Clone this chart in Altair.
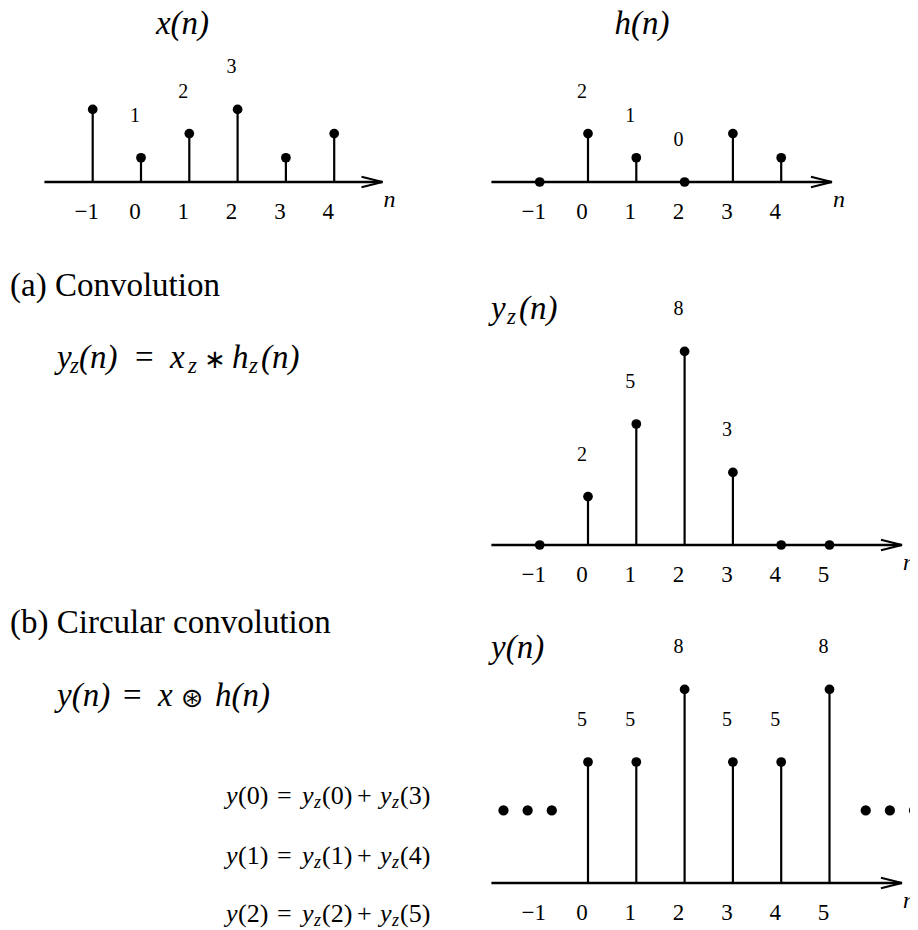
import altair as alt
import pandas as pd

# ---------------- data ----------------
n_x = [-1, 0, 1, 2, 3, 4]
x_vals = [3, 1, 2, 3, 1, 2]
x_labeled = [0, 1, 2]

n_h = [-1, 0, 1, 2, 3, 4]
h_vals = [0, 2, 1, 0, 2, 1]
h_labeled = [0, 1, 2]

n_yz = [-1, 0, 1, 2, 3, 4, 5]
yz_vals = [0, 2, 5, 8, 3, 0, 0]
yz_labeled = [0, 1, 2, 3]

n_y = [0, 1, 2, 3, 4, 5]
y_vals = [5, 5, 8, 5, 5, 8]
y_labeled = [0, 1, 2, 3, 4, 5]

ellipsis_n = [-1.75, -1.25, -0.75, 5.75, 6.25, 6.75]
ellipsis_level = [3, 3, 3, 3, 3, 3]

ticks_x = [-1, 0, 1, 2, 3, 4]
ticks_h = [-1, 0, 1, 2, 3, 4]
ticks_yz = [-1, 0, 1, 2, 3, 4, 5]
ticks_y = [-1, 0, 1, 2, 3, 4, 5]

axis_x = [-2.0, 5.0]
axis_h = [-2.0, 5.05]
axis_yz = [-2.0, 6.5]
axis_y = [-2.0, 6.5]

heading_a = "(a) Convolution"
heading_b = "(b) Circular convolution"
small_lhs = [0, 1, 2]
small_rhs_a = [0, 1, 2]
small_rhs_b = [3, 4, 5]

# ---------------- layout / style ----------------
SERIF = "Liberation Serif"
SYM = "DejaVu Sans"
XU = 48.3   # px per sample
YU = 24.2   # px per amplitude unit
W = 451


def xdom(n0_page, x0_page, w):
    o = n0_page - x0_page
    return [-o / XU, (w - o) / XU]


def ydom(axis_page, y0_page, h):
    o = axis_page - y0_page
    return [-(h - o) / YU, o / YU]


def piece(s, px, py, x0, y0, size, italic=False, font=SERIF, align="left"):
    return alt.Chart(pd.DataFrame({"s": [s]})).mark_text(
        align=align, baseline="alphabetic", font=font, fontSize=size,
        fontStyle="italic" if italic else "normal", color="black"
    ).encode(x=alt.value(px - x0), y=alt.value(py - y0), text="s:N")


def tick_text(t):
    return ("\u2212" + str(-t)) if t < 0 else str(t)


def stem_panel(n, vals, labeled, ticks, ext, x0, y0, w, h, n0_page, axis_page, extra=None):
    xs = alt.Scale(domain=xdom(n0_page, x0, w), nice=False, zero=False)
    ys = alt.Scale(domain=ydom(axis_page, y0, h), nice=False, zero=False)
    df = pd.DataFrame({"n": n, "v": vals})
    df["label"] = [str(v) if k in labeled else "" for k, v in zip(n, vals)]
    dax = pd.DataFrame({"a0": [ext[0]], "a1": [ext[1]], "v": [0]})
    dt = pd.DataFrame({"t": ticks, "v": [0] * len(ticks), "lab": [tick_text(t) for t in ticks]})

    X = alt.X("n:Q", scale=xs, axis=None)
    Y = alt.Y("v:Q", scale=ys, axis=None)

    axis_line = alt.Chart(dax).mark_rule(color="black", strokeWidth=2.5).encode(
        x=alt.X("a0:Q", scale=xs, axis=None), x2="a1:Q", y=Y)
    arrow = alt.Chart(dax).mark_point(
        shape="M -2 -0.5 L 0 0 L -2 0.5", size=441, filled=False,
        color="black", strokeWidth=2, opacity=1
    ).encode(x=alt.X("a1:Q", scale=xs, axis=None), y=Y)
    nlab = alt.Chart(dax).mark_text(
        align="left", baseline="alphabetic", dx=1, dy=25, font=SERIF, fontSize=24,
        fontStyle="italic", color="black", clip=True
    ).encode(x=alt.X("a1:Q", scale=xs, axis=None), y=Y, text=alt.value("n"))
    stems = alt.Chart(df).mark_rule(color="black", strokeWidth=2.2).encode(
        x=X, y=Y, y2=alt.datum(0))
    dots = alt.Chart(df).mark_circle(size=95, color="black", opacity=1).encode(x=X, y=Y)
    labels = alt.Chart(df).transform_filter("datum.label != ''").mark_text(
        baseline="alphabetic", dx=-6, dy=-36, font=SERIF, fontSize=20, color="black"
    ).encode(x=X, y=Y, text="label:N")
    tlabs = alt.Chart(dt).mark_text(
        baseline="alphabetic", dx=-6, dy=37, font=SERIF, fontSize=23, color="black"
    ).encode(x=alt.X("t:Q", scale=xs, axis=None), y=Y, text="lab:N")

    layers = [axis_line, arrow, nlab, stems, dots, labels, tlabs]
    if extra is not None:
        layers += extra(xs, ys)
    return layers


# ---------------- panels ----------------
# top-left: x(n)
L1x0, L1y0, L1h = 8, 8, 242
L1 = alt.layer(
    *stem_panel(n_x, x_vals, x_labeled, ticks_x, axis_x, L1x0, L1y0, W, L1h, 141, 182),
    piece("x(n)", 182.5, 34, L1x0, L1y0, 33, italic=True, align="center"),
).properties(width=W, height=L1h)

# top-right: h(n)
R1x0, R1y0, R1h = 459, 8, 242
R1 = alt.layer(
    *stem_panel(n_h, h_vals, h_labeled, ticks_h, axis_h, R1x0, R1y0, W, R1h, 588, 182),
    piece("h(n)", 642, 34, R1x0, R1y0, 33, italic=True, align="center"),
).properties(width=W, height=R1h)

# middle-right: y_z(n)
R2x0, R2y0, R2h = 459, 250, 340
R2 = alt.layer(
    *stem_panel(n_yz, yz_vals, yz_labeled, ticks_yz, axis_yz, R2x0, R2y0, W, R2h, 588, 545),
    piece("y", 491, 319, R2x0, R2y0, 33, italic=True),
    piece("z", 507, 324, R2x0, R2y0, 23, italic=True),
    piece("(n)", 519, 319, R2x0, R2y0, 33, italic=True),
).properties(width=W, height=R2h)


# bottom-right: y(n) with ellipses
def ellipses(xs, ys):
    de = pd.DataFrame({"n": ellipsis_n, "v": ellipsis_level})
    return [alt.Chart(de).mark_circle(size=105, color="black", opacity=1, clip=True).encode(
        x=alt.X("n:Q", scale=xs, axis=None), y=alt.Y("v:Q", scale=ys, axis=None))]


R3x0, R3y0, R3h = 459, 590, 332
R3 = alt.layer(
    *stem_panel(n_y, y_vals, y_labeled, ticks_y, axis_y, R3x0, R3y0, W, R3h, 588, 883, extra=ellipses),
    piece("y(n)", 491, 658, R3x0, R3y0, 33, italic=True),
).properties(width=W, height=R3h)

# left text column
L2x0, L2y0, L2h = 8, 250, 672
txt = [
    piece(heading_a, 10, 296, L2x0, L2y0, 33),
    # y_z(n) = x_z * h_z(n)
    piece("y", 57, 368, L2x0, L2y0, 33, italic=True),
    piece("z", 70, 373, L2x0, L2y0, 23, italic=True),
    piece("(n)", 79, 368, L2x0, L2y0, 33, italic=True),
    piece("=", 135, 368, L2x0, L2y0, 33),
    piece("x", 170, 368, L2x0, L2y0, 33, italic=True),
    piece("z", 188, 373, L2x0, L2y0, 23, italic=True),
    piece("\u2217", 204, 368, L2x0, L2y0, 26, font=SYM),
    piece("h", 232, 368, L2x0, L2y0, 33, italic=True),
    piece("z", 249, 373, L2x0, L2y0, 23, italic=True),
    piece("(n)", 261, 368, L2x0, L2y0, 33, italic=True),
    piece(heading_b, 10, 633, L2x0, L2y0, 33),
    # y(n) = x (*) h(n)
    piece("y(n)", 57, 706, L2x0, L2y0, 33, italic=True),
    piece("=", 123, 706, L2x0, L2y0, 33),
    piece("x", 158, 706, L2x0, L2y0, 33, italic=True),
    piece("\u229b", 181, 707, L2x0, L2y0, 27, font=SYM),
    piece("h(n)", 215, 706, L2x0, L2y0, 33, italic=True),
]
small_base = [804, 864, 922]
for k, b in enumerate(small_base):
    txt += [
        piece("y", 226, b, L2x0, L2y0, 26, italic=True),
        piece("(%d)" % small_lhs[k], 238, b, L2x0, L2y0, 26),
        piece("=", 277, b, L2x0, L2y0, 26),
        piece("y", 302, b, L2x0, L2y0, 26, italic=True),
        piece("z", 314, b + 4, L2x0, L2y0, 18, italic=True),
        piece("(%d)" % small_rhs_a[k], 322, b, L2x0, L2y0, 26),
        piece("+", 357, b, L2x0, L2y0, 26),
        piece("y", 380, b, L2x0, L2y0, 26, italic=True),
        piece("z", 392, b + 4, L2x0, L2y0, 18, italic=True),
        piece("(%d)" % small_rhs_b[k], 400, b, L2x0, L2y0, 26),
    ]
L2 = alt.layer(*txt).properties(width=W, height=L2h)

left = alt.vconcat(L1, L2, spacing=0, bounds="flush")
right = alt.vconcat(R1, R2, R3, spacing=0, bounds="flush")
chart = alt.hconcat(left, right, spacing=0).properties(
    padding=0, background="white"
).configure_view(strokeWidth=0)

chart.save("out.html", embed_options={"renderer": "svg", "actions": False})
